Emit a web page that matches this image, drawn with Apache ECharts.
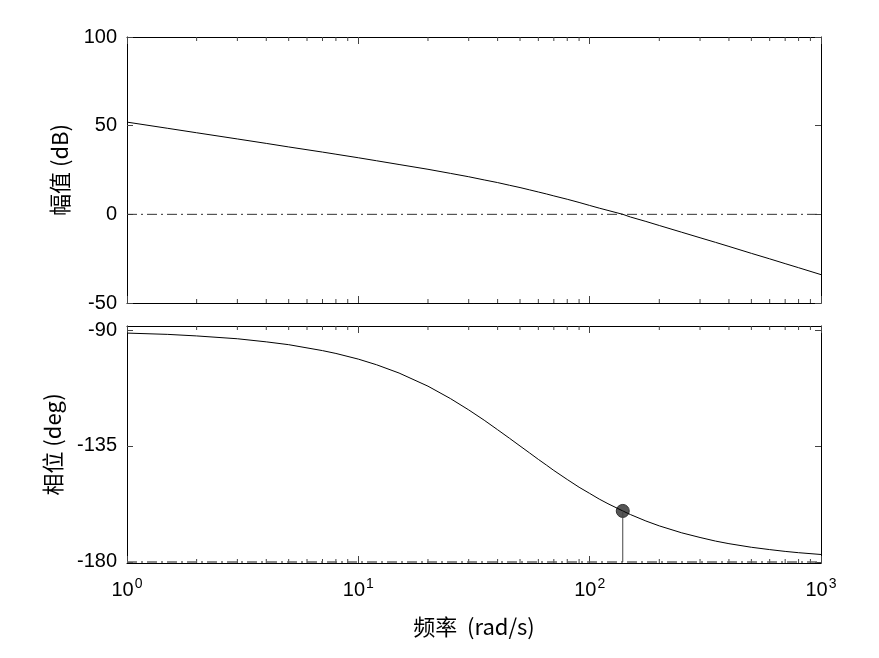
<!DOCTYPE html>
<html>
<head>
<meta charset="utf-8">
<script src="https://cdn.jsdelivr.net/npm/echarts@6/dist/echarts.min.js"></script>
<style>
html,body{margin:0;padding:0;background:#fff;}
#chart{width:879px;height:658px;}
</style>
</head>
<body>
<div id="chart"></div>
<script>
// Frequency samples (rad/s)
const freq = [1, 1.5, 2, 3, 4, 5, 7, 8, 10, 12, 15, 20, 25, 30, 35, 40, 45, 50, 55, 60, 65, 70, 80, 90, 100, 110, 120, 139, 150, 175, 200, 250, 300, 350, 400, 500, 600, 700, 800, 1000];
// Magnitude (dB)
const magnitude = [52.0, 48.5, 46.0, 42.5, 40.0, 38.0, 35.1, 33.9, 31.9, 30.2, 28.1, 25.4, 23.1, 21.2, 19.4, 17.9, 16.4, 15.1, 13.8, 12.6, 11.5, 10.4, 8.5, 6.7, 5.0, 3.5, 2.2, 0.0, -1.5, -4.0, -6.3, -10.1, -13.2, -15.8, -18.1, -22.0, -25.1, -27.8, -30.1, -34.0];
// Phase (deg)
const phase = [-91.2, -91.7, -92.3, -93.4, -94.6, -95.7, -98.0, -99.1, -101.3, -103.5, -106.7, -111.8, -116.6, -121.0, -125.0, -128.7, -132.0, -135.0, -137.7, -140.2, -142.4, -144.5, -148.0, -151.0, -153.4, -155.6, -157.4, -160.2, -161.6, -164.1, -166.0, -168.7, -170.5, -171.9, -172.9, -174.3, -175.2, -175.9, -176.4, -177.1];
// Gain crossover frequency and phase there
const crossFreq = 139;
const crossPhase = -160.2;
// Reference levels
const zeroDb = 0;
const minus180 = -180;
// Tick labels
const magTicks = [-50, 0, 50, 100];
const phaseTicks = [-180, -135, -90];
const minorTickValues = [];
[1, 10, 100].forEach(d => { for (let k = 2; k <= 9; k++) minorTickValues.push(k * d); });

const chart = echarts.init(document.getElementById('chart'), null, {renderer: 'canvas'});
const FONT = 'Liberation Sans, Arial, sans-serif';
const CJK = 'Noto Sans CJK SC, Liberation Sans, sans-serif';

const magRange = [-50, 100];
const phaseRange = [-180.4, -88.45];

function xAxisBase(grid, pos, labels) {
  return {
    type: 'log', logBase: 10, min: 1, max: 1000, gridIndex: grid, position: pos,
    axisLine: {show: true, onZero: false, lineStyle: {color: '#000', width: 1}},
    axisTick: {show: true, inside: true, length: 7, lineStyle: {color: '#444'}},
    axisLabel: labels ? {
      show: true, margin: 14, fontFamily: FONT, color: '#000',
      formatter: v => '{b|10}{s|' + Math.round(Math.log10(v)) + '}',
      rich: {
        b: {fontSize: 20, fontFamily: FONT, color: '#000'},
        s: {fontSize: 14, fontFamily: FONT, color: '#000', padding: [0, 0, 12, 1]}
      }
    } : {show: false},
    splitLine: {show: false}, minorTick: {show: false}
  };
}
function yAxisBase(grid, pos, range, ticks, labels) {
  return {
    type: 'value', gridIndex: grid, position: pos, min: range[0], max: range[1],
    axisLine: {show: true, onZero: false, lineStyle: {color: '#000', width: 1}},
    axisTick: {show: true, inside: true, length: 6, customValues: ticks, lineStyle: {color: '#444'}},
    axisLabel: labels ? {show: true, customValues: ticks, fontSize: 20, fontFamily: FONT, color: '#000', margin: 10} : {show: false},
    splitLine: {show: false}
  };
}

const minorData = minorTickValues.map(v => [v]);
function minorRender(yr) {
  return function (params, api) {
    const x = api.value(0);
    const pb = api.coord([x, yr[0]]);
    const pt = api.coord([x, yr[1]]);
    const st = {stroke: '#444', lineWidth: 1};
    return {type: 'group', children: [
      {type: 'line', shape: {x1: pb[0], y1: pb[1], x2: pb[0], y2: pb[1] - 4}, style: st},
      {type: 'line', shape: {x1: pt[0], y1: pt[1], x2: pt[0], y2: pt[1] + 4}, style: st}
    ]};
  };
}

const option = {
  backgroundColor: '#fff',
  animation: false,
  grid: [
    {left: 127, top: 37, width: 694, height: 266},
    {left: 127, top: 326, width: 694, height: 237}
  ],
  xAxis: [
    xAxisBase(0, 'bottom', false),
    xAxisBase(0, 'top', false),
    Object.assign(xAxisBase(1, 'bottom', true), {
      name: '频率  (rad/s)', nameLocation: 'middle', nameGap: 53,
      nameTextStyle: {fontSize: 22, fontFamily: CJK, color: '#000'}
    }),
    xAxisBase(1, 'top', false)
  ],
  yAxis: [
    Object.assign(yAxisBase(0, 'left', magRange, magTicks, true), {
      interval: 50,
      name: '幅值 (dB)', nameLocation: 'middle', nameGap: 56,
      nameTextStyle: {fontSize: 22, fontFamily: CJK, color: '#000'}
    }),
    yAxisBase(0, 'right', magRange, magTicks, false),
    Object.assign(yAxisBase(1, 'left', phaseRange, phaseTicks, true), {
      name: '相位 (deg)', nameLocation: 'middle', nameGap: 63,
      nameTextStyle: {fontSize: 22, fontFamily: CJK, color: '#000'}
    }),
    yAxisBase(1, 'right', phaseRange, phaseTicks, false)
  ],
  series: [
    {
      type: 'line', xAxisIndex: 0, yAxisIndex: 0, showSymbol: false, silent: true,
      data: [[1, zeroDb], [1000, zeroDb]],
      lineStyle: {color: '#333', width: 1, type: [10, 4, 2, 4]}
    },
    {
      type: 'line', xAxisIndex: 0, yAxisIndex: 0, showSymbol: false, smooth: false,
      data: freq.map((f, i) => [f, magnitude[i]]),
      lineStyle: {color: '#000', width: 1}
    },
    {
      type: 'line', xAxisIndex: 2, yAxisIndex: 2, showSymbol: false, silent: true,
      data: [[1, minus180], [1000, minus180]],
      lineStyle: {color: '#666', width: 1.5, type: [10, 4, 2, 4]}
    },
    {
      type: 'line', xAxisIndex: 2, yAxisIndex: 2, showSymbol: false, smooth: false,
      data: freq.map((f, i) => [f, phase[i]]),
      lineStyle: {color: '#000', width: 1}
    },
    {
      type: 'line', xAxisIndex: 2, yAxisIndex: 2, showSymbol: false,
      data: [[crossFreq, crossPhase], [crossFreq, minus180]],
      lineStyle: {color: '#444', width: 1}
    },
    {
      type: 'scatter', xAxisIndex: 2, yAxisIndex: 2, symbol: 'circle', symbolSize: 13,
      data: [[crossFreq, crossPhase]],
      itemStyle: {color: '#555', borderColor: '#333', borderWidth: 1, opacity: 1}
    },
    {
      type: 'custom', xAxisIndex: 0, yAxisIndex: 0, silent: true, clip: false,
      data: minorData, renderItem: minorRender(magRange)
    },
    {
      type: 'custom', xAxisIndex: 2, yAxisIndex: 2, silent: true, clip: false,
      data: minorData, renderItem: minorRender(phaseRange)
    }
  ]
};
chart.setOption(option);
</script>
</body>
</html>
